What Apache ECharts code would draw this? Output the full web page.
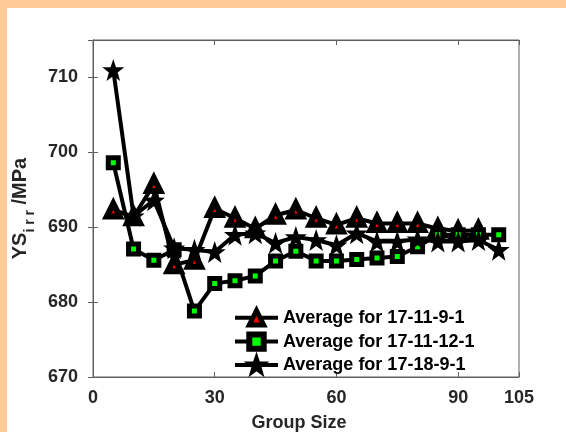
<!DOCTYPE html>
<html><head><meta charset="utf-8">
<script src="https://cdn.jsdelivr.net/npm/echarts@6/dist/echarts.min.js"></script>
<style>html,body{margin:0;padding:0;background:#fff}#c{width:566px;height:432px}</style>
</head><body><div id="c"></div>
<script>
const groupSize = [5,10,15,20,25,30,35,40,45,50,55,60,65,70,75,80,85,90,95,100];
const avg_17_11_9_1 = [692.3,691.4,695.7,685.0,685.6,692.5,691.2,689.8,691.6,692.3,691.2,690.3,691.2,690.5,690.5,690.5,689.8,689.5,689.6,null];
const avg_17_11_12_1 = [698.6,687.1,685.6,687.0,678.8,682.5,682.85,683.5,685.5,686.8,685.5,685.5,685.7,685.9,686.1,687.4,689.0,689.0,689.0,689.0];
const avg_17_18_9_1 = [711.0,691.5,693.6,687.2,687.0,686.7,689.0,689.2,687.9,688.7,688.3,687.6,689.2,688.1,688.1,688.4,688.1,688.1,688.3,687.0];
const seriesNames = ['Average for 17-11-9-1','Average for 17-11-12-1','Average for 17-18-9-1'];
const xTicks = [0,30,60,90,105];
const yTicks = [670,680,690,700,710];

const chart = echarts.init(document.getElementById('c'), null, {renderer:'canvas'});
const pair = arr => groupSize.map((x,i)=>[x,arr[i]]).filter(p=>p[1]!=null);
const font = 'Liberation Sans, Arial, Helvetica, sans-serif';
const axisCol = '#606060';
const labCol = '#262626';
const starPath = 'path://M0,-10 L2.35,-3.24 L9.51,-3.09 L3.8,1.24 L5.88,8.09 L0,4 L-5.88,8.09 L-3.8,1.24 L-9.51,-3.09 L-2.35,-3.24 Z';
chart.setOption({
  animation:false,
  backgroundColor:'#fff',
  graphic:[
    {type:'rect', shape:{x:0,y:0,width:566,height:8}, style:{fill:'#ffca96'}, z:100},
    {type:'rect', shape:{x:0,y:0,width:7,height:432}, style:{fill:'#ffca96'}, z:100}
  ],
  grid:{left:93,right:47,top:40,bottom:55,outerBoundsMode:'none',containLabel:false,show:true,borderColor:axisCol,borderWidth:1,backgroundColor:'transparent'},
  xAxis:[{
    type:'value',min:0,max:105,
    axisTick:{inside:true,length:5,lineStyle:{color:axisCol},customValues:xTicks},
    axisLabel:{customValues:xTicks,color:labCol,fontSize:18,fontWeight:'bold',fontFamily:font,margin:12},
    axisLine:{lineStyle:{color:axisCol}},
    splitLine:{show:false},
    name:'Group Size',nameLocation:'middle',nameGap:37,
    nameTextStyle:{color:labCol,fontSize:18,fontWeight:'bold',fontFamily:font,padding:[0,14,0,0]}
  },{
    type:'value',min:0,max:105,position:'top',
    axisTick:{inside:true,length:5,lineStyle:{color:axisCol},customValues:xTicks},
    axisLabel:{show:false},axisLine:{lineStyle:{color:axisCol}},splitLine:{show:false}
  }],
  yAxis:[{
    type:'value',min:670,max:715,interval:10,
    axisTick:{inside:true,length:5,lineStyle:{color:axisCol}},
    axisLabel:{color:labCol,fontSize:18,fontWeight:'bold',fontFamily:font,margin:15,showMaxLabel:false},
    axisLine:{show:true,lineStyle:{color:axisCol}},
    splitLine:{show:false},
    name:'{m|YS}{s|i r r}{m| /MPa}',nameLocation:'middle',nameGap:54,nameRotate:90,
    nameTextStyle:{color:labCol,fontSize:20,fontWeight:'bold',fontFamily:font,
      rich:{m:{fontSize:20,fontWeight:'bold',fontFamily:font,color:labCol,lineHeight:34,verticalAlign:'middle'},
            s:{fontSize:14,fontWeight:'bold',fontFamily:font,color:labCol,lineHeight:16,verticalAlign:'bottom'}}}
  },{
    type:'value',min:670,max:715,interval:10,position:'right',
    axisTick:{inside:true,length:5,lineStyle:{color:axisCol}},
    axisLabel:{show:false},axisLine:{show:true,lineStyle:{color:axisCol}},splitLine:{show:false}
  }],
  legend:{
    orient:'vertical',left:228,top:303,itemWidth:43,itemHeight:18,itemGap:4,
    lineStyle:{width:4,color:'#000'},
    textStyle:{color:'#000',fontSize:18,fontWeight:'bold',fontFamily:font,padding:[0,0,0,0]},
    data:[
      {name:seriesNames[0],itemStyle:{borderWidth:5,borderColor:'#000'}},
      {name:seriesNames[1],itemStyle:{borderWidth:6,borderColor:'#000'}},
      {name:seriesNames[2],itemStyle:{borderWidth:4,borderColor:'#000'}}
    ]
  },
  series:[
    {name:seriesNames[0],type:'line',data:pair(avg_17_11_9_1),symbol:'triangle',symbolSize:13,
     lineStyle:{color:'#000',width:4},itemStyle:{color:'#ff0000',borderColor:'#000',borderWidth:6}},
    {name:seriesNames[1],type:'line',data:pair(avg_17_11_12_1),symbol:'rect',symbolSize:10,
     lineStyle:{color:'#000',width:4},itemStyle:{color:'#00ff00',borderColor:'#000',borderWidth:5}},
    {name:seriesNames[2],type:'line',data:pair(avg_17_18_9_1),symbol:starPath,
     symbolSize:22,lineStyle:{color:'#000',width:4},itemStyle:{color:'#000',borderColor:'#000',borderWidth:0}}
  ]
});
</script></body></html>
